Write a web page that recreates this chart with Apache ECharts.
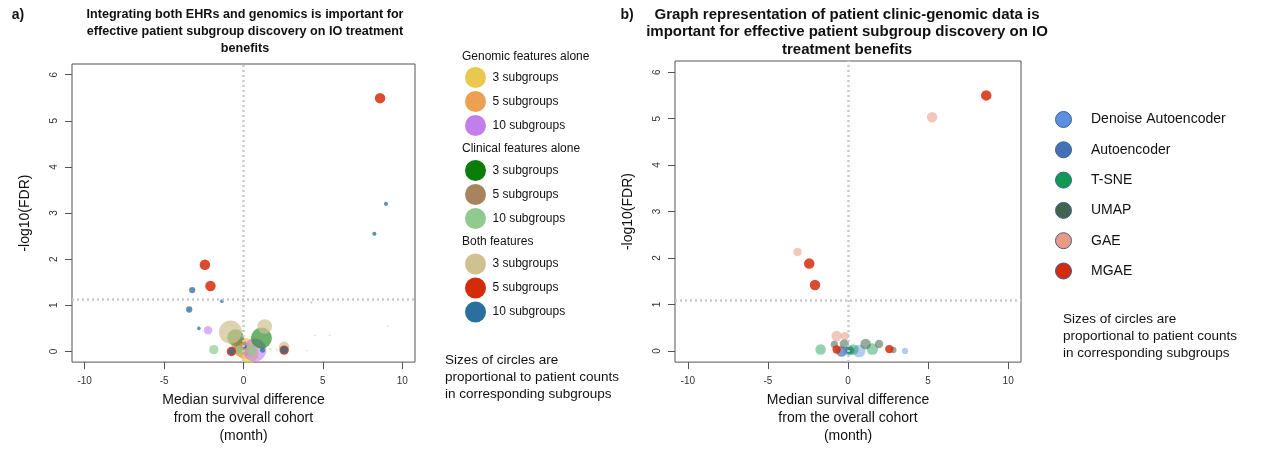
<!DOCTYPE html>
<html>
<head>
<meta charset="utf-8">
<script src="https://cdn.jsdelivr.net/npm/echarts@6/dist/echarts.min.js"></script>
<style>
  html, body { margin: 0; padding: 0; background: #fff; }
  #chart { width: 1262px; height: 450px; }
</style>
</head>
<body>
<div id="chart"></div>
<script>
// tick labels
var xTicks = [-10, -5, 0, 5, 10];
var yTicks = [0, 1, 2, 3, 4, 5, 6];
var cutoffA = 1.13;
var cutoffB = 1.09;

// panel a: [median survival diff, -log10(FDR), relative patient count]
var genomic3 = [[0.08, 0.07, 100], [0.35, -0.05, 81], [1.7, 0.05, 1]];
var genomic5 = [[-0.1, 0.05, 64], [4.28, 1.06, 1], [4.5, 0.35, 0.4], [5.43, 0.35, 0.3], [4.0, 0.02, 0.4], [2.1, 0.04, 0.5]];
var genomic10 = [[-2.23, 0.46, 16], [0.71, 0.03, 121], [9.08, 0.55, 0.4]];
var clinical3 = [[1.13, 0.29, 100], [-0.5, 0.3, 64]];
var clinical5 = [[-0.3, 0.15, 49]];
var clinical10 = [[-1.87, 0.04, 20], [0.5, 0.03, 25], [-0.27, 0.03, 16]];
var both3 = [[-0.82, 0.42, 121], [1.34, 0.54, 49], [2.56, 0.1, 25]];
var both5 = [[8.6, 5.49, 25], [-2.43, 1.88, 25], [-2.08, 1.42, 25], [-0.76, 0.0, 20], [2.56, 0.03, 20]];
var both10 = [[8.97, 3.2, 4], [8.24, 2.55, 4], [-3.23, 1.33, 9], [-1.36, 1.09, 3], [-3.42, 0.91, 9], [-2.81, 0.5, 3], [1.2, 0.03, 6], [0.1, 0.1, 3], [-0.76, 0.0, 9], [2.56, 0.03, 12]];

// panel b
var denoiseAE = [[0.7, 0.0, 36], [3.56, 0.0, 9], [-0.03, 0.0, 16]];
var autoencoder = [[-0.4, -0.01, 25], [0.1, 0.02, 16]];
var tsne = [[-1.71, 0.03, 25], [0.33, 0.03, 25], [1.52, 0.04, 30], [0.15, 0.0, 16]];
var umap = [[-0.85, 0.14, 12], [-0.23, 0.15, 20], [1.1, 0.15, 25], [1.94, 0.15, 16], [2.83, 0.02, 9]];
var gae = [[5.25, 5.03, 25], [-3.15, 2.13, 16], [-0.71, 0.32, 25], [-0.19, 0.32, 16]];
var mgae = [[8.63, 5.5, 25], [-2.42, 1.88, 25], [-2.06, 1.42, 25], [-0.71, 0.03, 16], [2.58, 0.04, 16]];

var myChart = echarts.init(document.getElementById('chart'));

function bubbleSize(v) {
    return Math.sqrt(v[2]) * 2.1;
}

function makeAxis(grid, ticks, min, max, isY) {
    var ax = {
        type: 'value',
        gridIndex: grid,
        min: min,
        max: max,
        axisLine: { show: false, onZero: false },
        splitLine: { show: false },
        axisTick: { show: true, customValues: ticks, length: 7, lineStyle: { color: '#555' } },
        axisLabel: { customValues: ticks, fontSize: 10, color: '#333', margin: 14, fontFamily: 'Liberation Sans' }
    };
    if (isY) {
        ax.axisLabel.rotate = 90;
        ax.axisLabel.margin = 13;
        ax.name = '-log10(FDR)';
        ax.nameLocation = 'middle';
        ax.nameGap = 40;
        ax.nameTextStyle = { fontSize: 14, color: '#111', fontFamily: 'Liberation Sans' };
    } else {
        ax.name = 'Median survival difference\nfrom the overall cohort\n(month)';
        ax.nameLocation = 'middle';
        ax.nameGap = 24;
        ax.nameTextStyle = { fontSize: 14, color: '#111', lineHeight: 18, fontFamily: 'Liberation Sans' };
    }
    return ax;
}

function bubbles(name, data, color, opacity, grid) {
    return {
        name: name,
        type: 'scatter',
        xAxisIndex: grid,
        yAxisIndex: grid,
        data: data,
        symbolSize: bubbleSize,
        itemStyle: { color: color, opacity: opacity },
        emphasis: { disabled: true }
    };
}

function refLines(grid, cutoff) {
    return {
        type: 'scatter',
        xAxisIndex: grid,
        yAxisIndex: grid,
        data: [],
        z: 10,
        markLine: {
            silent: true,
            symbol: 'none',
            label: { show: false },
            lineStyle: { color: '#cacaca', width: 2.5, type: [2, 3] },
            data: [{ xAxis: 0 }, { yAxis: cutoff }]
        }
    };
}

var seriesA = [
    bubbles('g|3 subgroups', genomic3, '#E8C84E', 0.7, 0),
    bubbles('g|5 subgroups', genomic5, '#EBA052', 0.7, 0),
    bubbles('g|10 subgroups', genomic10, '#C27FEB', 0.6, 0),
    bubbles('c|3 subgroups', clinical3, '#0A7D0A', 0.6, 0),
    bubbles('c|5 subgroups', clinical5, '#A8845E', 0.6, 0),
    bubbles('c|10 subgroups', clinical10, '#8FCB8F', 0.7, 0),
    bubbles('b|3 subgroups', both3, '#CFC190', 0.7, 0),
    bubbles('b|5 subgroups', both5, '#D42B0A', 0.85, 0),
    bubbles('b|10 subgroups', both10, '#2A6F9E', 0.75, 0),
    refLines(0, cutoffA)
];

var seriesB = [
    bubbles('Denoise Autoencoder', denoiseAE, '#5B8FE0', 0.45, 1),
    bubbles('Autoencoder', autoencoder, '#4470B8', 0.7, 1),
    bubbles('T-SNE', tsne, '#109A50', 0.45, 1),
    bubbles('UMAP', umap, '#44634F', 0.55, 1),
    bubbles('GAE', gae, '#E89A85', 0.55, 1),
    bubbles('MGAE', mgae, '#D42B0A', 0.85, 1),
    refLines(1, cutoffB)
];

function leftLegend(prefix, top) {
    return {
        orient: 'vertical',
        left: 465,
        top: top,
        padding: 0,
        itemWidth: 24,
        itemHeight: 21,
        itemGap: 3,
        icon: 'circle',
        itemStyle: { opacity: 1 },
        selectedMode: false,
        textStyle: { fontSize: 12, color: '#111', fontFamily: 'Liberation Sans' },
        formatter: function (name) { return name.split('|')[1]; },
        data: [prefix + '|3 subgroups', prefix + '|5 subgroups', prefix + '|10 subgroups']
    };
}

function label(x, y, text, size, bold, align, lh) {
    return {
        type: 'text',
        x: x,
        y: y,
        style: {
            text: text,
            fontSize: size,
            fontWeight: bold ? 'bold' : 'normal',
            fontFamily: 'Liberation Sans',
            fill: '#111',
            textAlign: align,
            textVerticalAlign: 'top',
            lineHeight: lh
        }
    };
}

var note = 'Sizes of circles are\nproportional to patient counts\nin corresponding subgroups';

option = {
    animation: false,
    backgroundColor: '#fff',
    grid: [
        { left: 72, top: 64, width: 343, height: 307, show: true, borderColor: '#555', borderWidth: 1 },
        { left: 675, top: 61, width: 346, height: 310, show: true, borderColor: '#555', borderWidth: 1 }
    ],
    xAxis: [makeAxis(0, xTicks, -10.8, 10.8, false), makeAxis(1, xTicks, -10.8, 10.8, false)],
    yAxis: [makeAxis(0, yTicks, -0.23, 6.23, true), makeAxis(1, yTicks, -0.24, 6.24, true)],
    legend: [
        leftLegend('g', 67),
        leftLegend('c', 160),
        leftLegend('b', 253.5),
        {
            orient: 'vertical',
            left: 1055,
            top: 111,
            padding: 0,
            itemWidth: 45,
            itemHeight: 16,
            itemGap: 13.3,
            icon: 'circle',
            itemStyle: { opacity: 1, borderColor: '#3f5f9a', borderWidth: 1 },
            selectedMode: false,
            textStyle: { fontSize: 14, color: '#111', fontFamily: 'Liberation Sans' },
            data: ['Denoise Autoencoder', 'Autoencoder', 'T-SNE', 'UMAP', 'GAE', 'MGAE']
        }
    ],
    graphic: [
        label(18, 7, 'a)', 14, true, 'center', 17),
        label(627, 7, 'b)', 14, true, 'center', 17),
        label(245, 6, 'Integrating both EHRs and genomics is important for\neffective patient subgroup discovery on IO treatment\nbenefits', 12.6, true, 'center', 17),
        label(847, 6, 'Graph representation of patient clinic-genomic data is\nimportant for effective patient subgroup discovery on IO\ntreatment benefits', 15, true, 'center', 17.5),
        label(462, 50, 'Genomic features alone', 12, false, 'left', 14),
        label(462, 142, 'Clinical features alone', 12, false, 'left', 14),
        label(462, 235, 'Both features', 12, false, 'left', 14),
        label(445, 352, note, 13.5, false, 'left', 17),
        label(1063, 311, note, 13.5, false, 'left', 17)
    ],
    series: seriesA.concat(seriesB)
};

myChart.setOption(option);
</script>
</body>
</html>
